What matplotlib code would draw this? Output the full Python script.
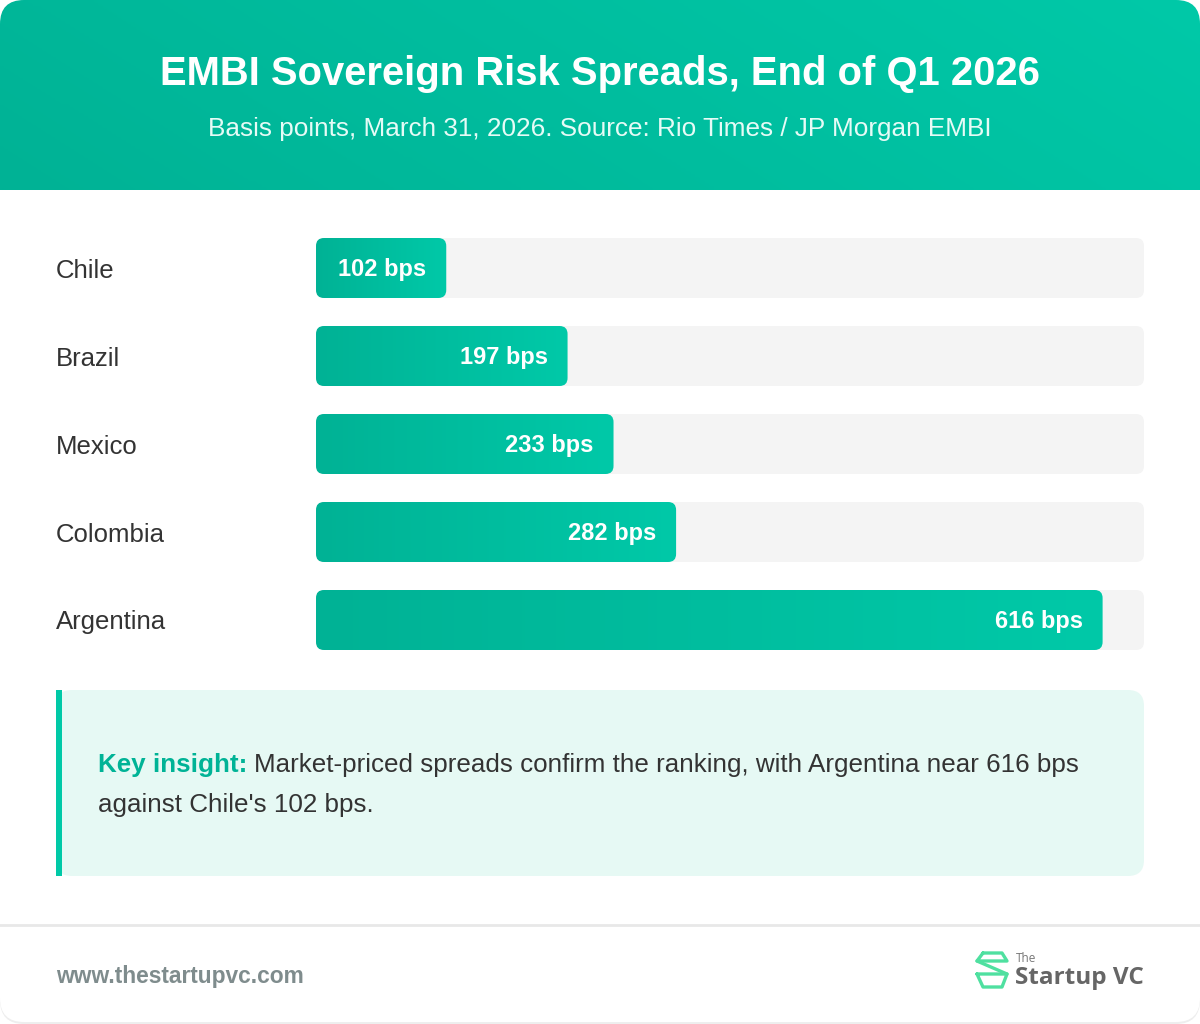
import numpy as np
import matplotlib
matplotlib.use("Agg")
import matplotlib.pyplot as plt
from matplotlib.patches import FancyBboxPatch, Rectangle
from matplotlib.colors import LinearSegmentedColormap

plt.rcParams['font.family'] = ['Liberation Sans', 'DejaVu Sans']

# data
countries = ["Chile", "Brazil", "Mexico", "Colombia", "Argentina"]
spreads = [102, 197, 233, 282, 616]
bar_labels = ["102 bps", "197 bps", "233 bps", "282 bps", "616 bps"]

title = "EMBI Sovereign Risk Spreads, End of Q1 2026"
subtitle = "Basis points, March 31, 2026. Source: Rio Times / JP Morgan EMBI"
insight_head = "Key insight:"
insight_line1 = "Market-priced spreads confirm the ranking, with Argentina near 616 bps"
insight_line2 = "against Chile's 102 bps."
footer_url = "www.thestartupvc.com"

W, H = 1200, 1024
teal_dark = "#00b295"
teal_light = "#00c9a8"
grad_cmap = LinearSegmentedColormap.from_list("tg", [teal_dark, teal_light])

fig = plt.figure(figsize=(W / 100, H / 100), dpi=100, facecolor="white")

# background axes in pixel units
bg = fig.add_axes([0, 0, 1, 1])
bg.set_xlim(0, W)
bg.set_ylim(H, 0)
bg.axis("off")

shadow = FancyBboxPatch((0, 4), W, H - 4, boxstyle="round,pad=0,rounding_size=24",
                        fc="#eeeeee", ec="none", zorder=0)
bg.add_patch(shadow)
card = FancyBboxPatch((0, 0), W, H - 2, boxstyle="round,pad=0,rounding_size=24",
                      fc="white", ec="none", zorder=1)
bg.add_patch(card)

# header gradient
gx = np.linspace(0, 1, 256)
gy = np.linspace(0, 1, 64)
hgrad = gx[None, :] * 0.8 + (1 - gy[:, None]) * 0.2
im = bg.imshow(hgrad, extent=[0, W, 190, 0], cmap=grad_cmap, aspect="auto", zorder=2)
im.set_clip_path(card)
bg.set_xlim(0, W)
bg.set_ylim(H, 0)

bg.text(W / 2, 74, title, ha="center", va="center", color="white",
        fontsize=28.8, fontweight="bold", zorder=3)
bg.text(W / 2, 129, subtitle, ha="center", va="center", color="#e6fbf6",
        fontsize=18.8, zorder=3)

# insight box
box = FancyBboxPatch((56, 690), 1088, 186, boxstyle="round,pad=0,rounding_size=16",
                     fc="#e6f9f4", ec="none", zorder=2)
bg.add_patch(box)
bg.add_patch(Rectangle((56, 690), 6, 186, fc="#00c9a7", ec="none", zorder=3))
t1 = bg.text(98, 765, insight_head, ha="left", va="center", color="#00b396",
             fontsize=18.7, fontweight="bold", zorder=4)
bg.annotate(insight_line1, xy=(1, 0), xycoords=t1, xytext=(5, 0),
            textcoords="offset points", ha="left", va="bottom",
            color="#333333", fontsize=18.7, zorder=4)
bg.text(98, 805, insight_line2, ha="left", va="center", color="#333333",
        fontsize=18.7, zorder=4)

# footer
bg.plot([0, W], [925, 925], color="#e8e8e8", lw=2, zorder=3)
bg.text(56, 977, footer_url, ha="left", va="center", color="#7f8c8d",
        fontsize=16.4, fontweight="bold", zorder=3)

# logo
lg = "#4fe0a0"
icon = [
    [(983, 953), (1002, 953), (1007, 961), (977, 961), (983, 953)],
    [(977, 961), (1007, 974)],
    [(977, 974), (1007, 974), (1002, 987), (983, 987), (977, 974)],
]
for seg in icon:
    xs, ys = zip(*seg)
    bg.plot(xs, ys, color=lg, lw=2.4, solid_joinstyle="round",
            solid_capstyle="round", zorder=3)
bg.text(1016, 959, "The", ha="left", va="center", color="#777777",
        fontsize=8.5, family="Open Sans", zorder=3)
bg.text(1015, 978, "Startup VC", ha="left", va="center", color="#666666",
        fontsize=17.5, family="Open Sans", fontweight="bold", zorder=3)

# bars axes
x_max = spreads[-1] / 0.95
row_px = 88
bar_px = 60
ax_top, ax_bot = 238, 650
ax = fig.add_axes([316 / W, 1 - ax_bot / H, 828 / W, (ax_bot - ax_top) / H])
ax.set_facecolor("none")
ax.axis("off")
ypos = np.arange(len(countries))
bh = bar_px / row_px

xpp = x_max / 828
ypp = 1 / row_px
asp = ypp / xpp
rad = 8 * xpp

tracks = ax.barh(ypos, [x_max] * len(countries), height=bh, color="none")
bars = ax.barh(ypos, spreads, height=bh, color="none")

for r in tracks:
    x0, y0, w, h = r.get_x(), r.get_y(), r.get_width(), r.get_height()
    p = FancyBboxPatch((x0, y0), w, h, boxstyle="round,pad=0,rounding_size=%f" % rad,
                       mutation_aspect=asp, fc="#f4f4f4", ec="none", zorder=1)
    ax.add_patch(p)

for r, lab in zip(bars, bar_labels):
    x0, y0, w, h = r.get_x(), r.get_y(), r.get_width(), r.get_height()
    p = FancyBboxPatch((x0, y0), w, h, boxstyle="round,pad=0,rounding_size=%f" % rad,
                       mutation_aspect=asp, fc="none", ec="none", zorder=2)
    ax.add_patch(p)
    g = ax.imshow(gx[None, :], extent=[x0, x0 + w, y0 + h, y0], cmap=grad_cmap,
                  aspect="auto", zorder=2)
    g.set_clip_path(p)
    ax.text(x0 + w - 20 * xpp, y0 + h / 2 + 1.5 * ypp, lab, ha="right", va="center",
            color="white", fontsize=17, fontweight="bold", zorder=3)

ax.set_xlim(0, x_max)
ax.set_ylim(len(countries) - 1 + 0.5 * bh, -0.5 * bh)

for i, c in enumerate(countries):
    ax.text(-260 * xpp, i + 2.5 * ypp, c, ha="left", va="center", color="#333333",
            fontsize=18.5, clip_on=False)

fig.savefig("out.png", dpi=100, facecolor="white")
